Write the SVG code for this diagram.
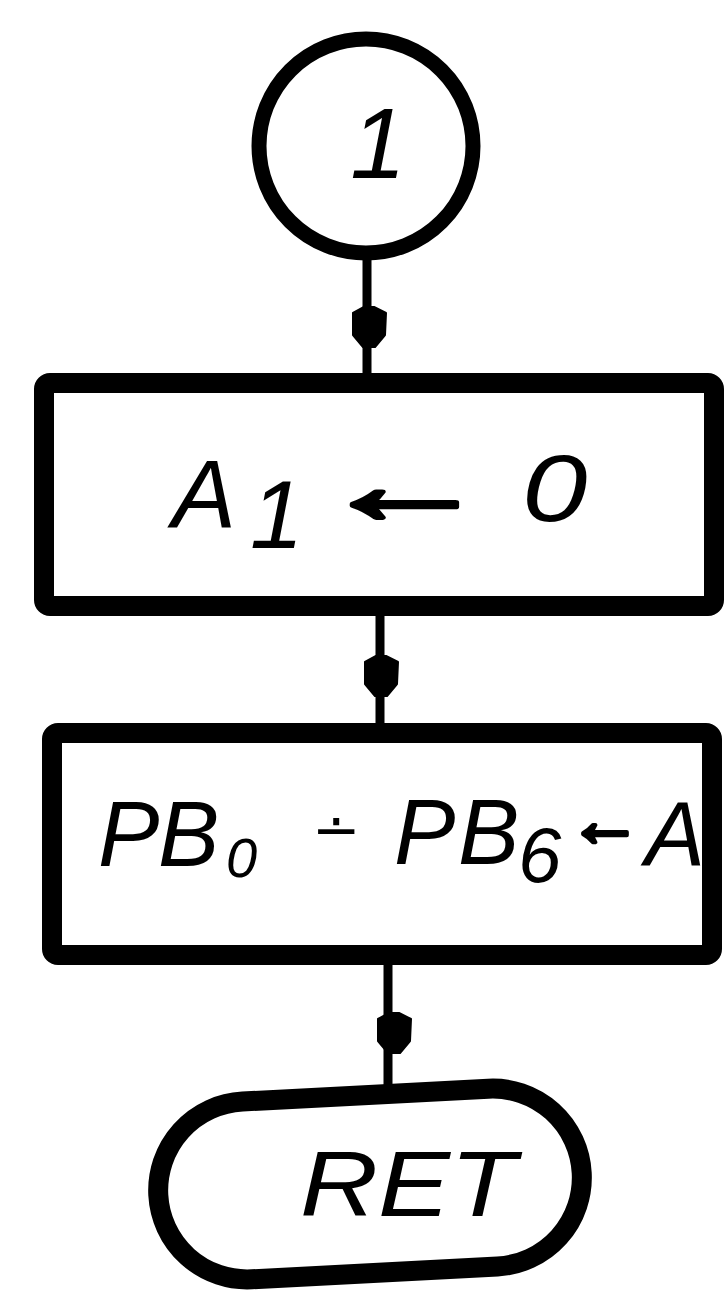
<svg xmlns="http://www.w3.org/2000/svg" width="725" height="1290" viewBox="0 0 725 1290">
  <style>
    .conn { stroke: #000; stroke-width: 9; fill: none; stroke-linecap: butt; }
    .head { fill: #000; stroke: #000; stroke-width: 2; stroke-linejoin: round; }
    .box { fill: #fff; stroke: #000; stroke-width: 20; stroke-linejoin: round; }
    .ring { fill: #fff; stroke: #000; stroke-width: 15; }
    .hand { font-family: "Liberation Sans", "DejaVu Sans", sans-serif; font-style: italic; fill: #000; }
    .arrow { font-family: "Liberation Sans", "DejaVu Sans", sans-serif; font-weight: bold; fill: #000; stroke: #000; stroke-width: 4; stroke-linejoin: round; }
  </style>
  <defs>
    <!-- blunt filled arrowhead sitting on a vertical flow line, pointing down -->
    <path id="flowHead" d="M -5,-20 L -16,-14 L -16,8 L -6,20 L 6,20 L 16,8 L 17,-14 L 5,-20 Z"/>
  </defs>

  <rect width="725" height="1290" fill="#fff"/>

  <!-- flow lines -->
  <g id="connectors">
    <line class="conn" x1="367" y1="258" x2="367" y2="376"/>
    <use href="#flowHead" class="head" x="369" y="327"/>
    <line class="conn" x1="380" y1="612" x2="380" y2="726"/>
    <use href="#flowHead" class="head" x="381" y="676"/>
    <line class="conn" x1="388" y1="962" x2="388" y2="1092"/>
    <use href="#flowHead" class="head" x="394" y="1033"/>
  </g>

  <!-- entry connector 1 -->
  <g id="node-connector-1">
    <circle class="ring" cx="366" cy="146" r="107"/>
    <text class="hand" x="378" y="178" font-size="100" text-anchor="middle">1</text>
  </g>

  <!-- A1 cleared -->
  <g id="node-clear-a1">
    <rect class="box" x="44" y="383" width="670" height="223" rx="6"/>
    <text class="hand" y="527" font-size="96"><tspan x="172">A</tspan><tspan x="250" y="548">1</tspan></text>
    <text class="arrow" x="0" y="0" font-size="96" transform="translate(318,523) scale(1.8,1.15)">←</text>
    <text class="hand" x="0" y="0" font-size="94" transform="translate(522,521) scale(1.25,1)">0</text>
  </g>

  <!-- port B bits loaded from A -->
  <g id="node-load-port-b">
    <rect class="box" x="52" y="733" width="660" height="222" rx="6"/>
    <text class="hand" y="866" font-size="92"><tspan x="98">P</tspan><tspan x="158">B</tspan><tspan x="226" y="877" font-size="56">0</tspan></text>
    <text class="hand" x="312" y="850" font-size="58" font-family="DejaVu Sans, sans-serif">∸</text>
    <text class="hand" y="864" font-size="92"><tspan x="394">P</tspan><tspan x="458">B</tspan><tspan x="518" y="882" font-size="78">6</tspan></text>
    <text class="arrow" x="568" y="846" font-size="74">←</text>
    <text class="hand" x="645" y="865" font-size="90">A</text>
  </g>

  <!-- return terminator -->
  <g id="node-ret">
    <rect class="box" x="-212" y="-89" width="424" height="178" rx="89" transform="translate(370,1184) rotate(-3)"/>
    <text class="hand" x="300" y="1216" font-size="92" textLength="216" lengthAdjust="spacingAndGlyphs">RET</text>
  </g>
</svg>
